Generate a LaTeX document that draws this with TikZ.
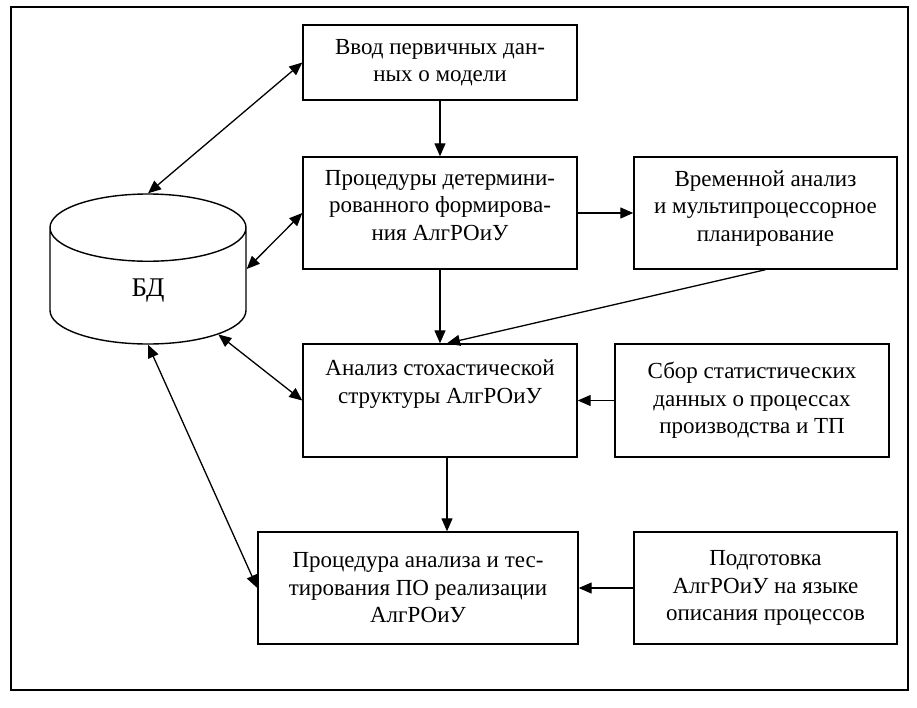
\documentclass[tikz,border=0pt]{standalone}
\usepackage{fontspec}
\setmainfont{Liberation Serif}
\usetikzlibrary{arrows.meta,shapes.geometric}

\tikzset{
  block/.style={draw, line width=1.4pt, rectangle, align=center, font=\fontsize{23}{27.5}\selectfont, inner sep=4pt},
  arr/.style={-{Triangle[length=13pt,width=11pt]}, line width=1.3pt},
  biarr/.style={{Triangle[length=13pt,width=11pt]}-{Triangle[length=13pt,width=11pt]}, line width=1.3pt}
}

\begin{document}
\begin{tikzpicture}[x=1pt, y=-1pt]
\useasboundingbox (0, 0) rectangle (917, 707);
\draw[line width=1.4pt] (11, 7) rectangle (908, 690);

% blocks
\node[block, minimum width=274pt, minimum height=75pt] (in1) at (440, 62.5) {Ввод первичных дан-\\ных о модели};
\node[block, minimum width=274pt, minimum height=112pt, text depth=16pt] (det) at (440, 213) {Процедуры детермини-\\рованного формирова-\\ния АлгРОиУ};
\node[block, minimum width=263pt, minimum height=112pt, text depth=14pt] (time) at (765.5, 213) {Временной анализ\\и мультипроцессорное\\планирование};
\node[block, minimum width=274pt, minimum height=113pt, text depth=38pt] (stoch) at (440, 400.5) {Анализ стохастической\\структуры АлгРОиУ};
\node[block, minimum width=274pt, minimum height=113pt] (stat) at (752, 400.5) {Сбор статистических\\данных о процессах\\производства и ТП};
\node[block, minimum width=320pt, minimum height=112pt] (test) at (418, 588) {Процедура анализа и тес-\\тирования ПО реализации\\АлгРОиУ};
\node[block, minimum width=263pt, minimum height=112pt] (prep) at (765.5, 588) {Подготовка\\АлгРОиУ на языке\\описания процессов};
\node[draw, line width=1.4pt, cylinder, shape border rotate=90, aspect=1.7, minimum width=196pt, minimum height=150pt, anchor=shape center, font=\fontsize{27}{30}\selectfont] (db) at (148, 269) {БД};

% links
\draw[biarr] (db.north) -- (in1.west);
\draw[biarr] (db.east |- db.shape center) -- (det.west);
\draw[biarr] (db.-32) -- (stoch.west);
\draw[biarr] (db.south) -- (test.west);
\draw[arr] (in1.south) -- (det.north);
\draw[arr] (det.south) -- (stoch.north);
\draw[arr] (det.east) -- (time.west);
\draw[arr] (time.south) -- ([xshift=7pt]stoch.north);
\draw[arr] (stat.west) -- (stoch.east);
\draw[arr] ([xshift=7pt]stoch.south) -- ([xshift=7pt]stoch.south |- test.north);
\draw[arr] (prep.west) -- (test.east);
\end{tikzpicture}
\end{document}
